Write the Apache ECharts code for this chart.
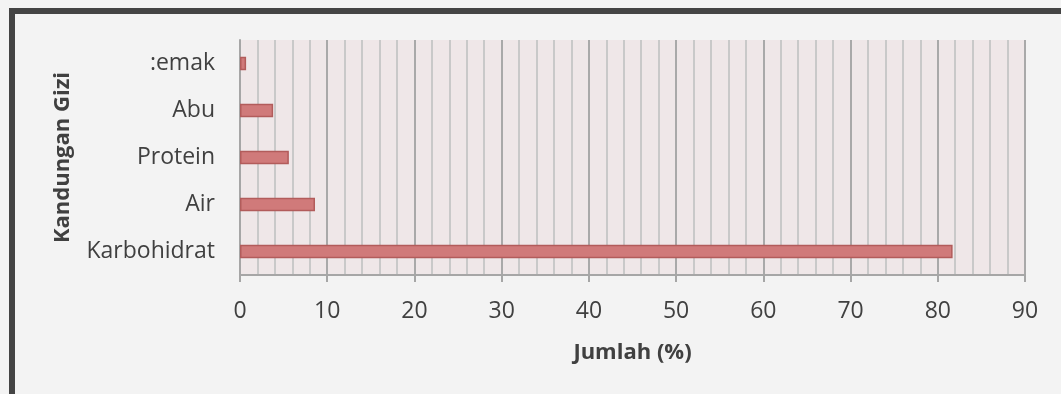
<!DOCTYPE html>
<html>
<head>
<meta charset="utf-8">
<script src="https://cdn.jsdelivr.net/npm/echarts@6/dist/echarts.min.js"></script>
<style>
html,body{margin:0;padding:0;background:#f3f3f3;}
#chart{width:1061px;height:394px;}
</style>
</head>
<body>
<div id="chart"></div>
<script>
const categories = ['Karbohidrat', 'Air', 'Protein', 'Abu', ':emak'];
const values = [81.7, 8.6, 5.6, 3.8, 0.7];
const xTicks = { min: 0, max: 90, interval: 10 };
const xAxisName = 'Jumlah (%)';
const yAxisName = 'Kandungan Gizi';

const chart = echarts.init(document.getElementById('chart'), null, { renderer: 'canvas' });
const font = '"Open Sans", "Noto Sans", sans-serif';
chart.setOption({
  backgroundColor: '#f3f3f3',
  animation: false,
  graphic: [
    { type: 'rect', shape: { x: 9, y: 8, width: 1052, height: 6 }, style: { fill: '#444444' } },
    { type: 'rect', shape: { x: 9, y: 8, width: 6, height: 386 }, style: { fill: '#444444' } }
  ],
  grid: { left: 240, right: 36, top: 40, bottom: 119, show: true, backgroundColor: '#efe7e8', borderWidth: 0 },
  xAxis: {
    type: 'value',
    min: xTicks.min, max: xTicks.max, interval: xTicks.interval,
    name: xAxisName, nameLocation: 'middle', nameGap: 67,
    nameTextStyle: { fontFamily: font, fontSize: 22, fontWeight: 'bold', color: '#404040' },
    axisLine: { show: true, lineStyle: { color: '#a6a6a6', width: 2 } },
    axisTick: { show: true, length: 7, lineStyle: { color: '#a6a6a6', width: 2 } },
    axisLabel: { margin: 25, fontFamily: font, fontSize: 23, color: '#404040' },
    splitLine: { show: true, lineStyle: { color: '#a9a9a9', width: 2 } },
    minorTick: { show: false, splitNumber: 5 },
    minorSplitLine: { show: true, lineStyle: { color: '#c9c9c9', width: 2 } }
  },
  yAxis: {
    type: 'category',
    data: categories,
    name: yAxisName, nameLocation: 'middle', nameGap: 166,
    nameTextStyle: { fontFamily: font, fontSize: 22, fontWeight: 'bold', color: '#404040' },
    axisLine: { show: true, lineStyle: { color: '#a6a6a6', width: 2 } },
    axisTick: { show: false },
    axisLabel: { margin: 25, fontFamily: font, fontSize: 23, color: '#404040' },
    splitLine: { show: false }
  },
  series: [{
    type: 'bar',
    data: values,
    barWidth: '29%',
    itemStyle: { color: '#d07a7a', borderColor: '#b25c5b', borderWidth: 1.5 }
  }]
});
</script>
</body>
</html>
